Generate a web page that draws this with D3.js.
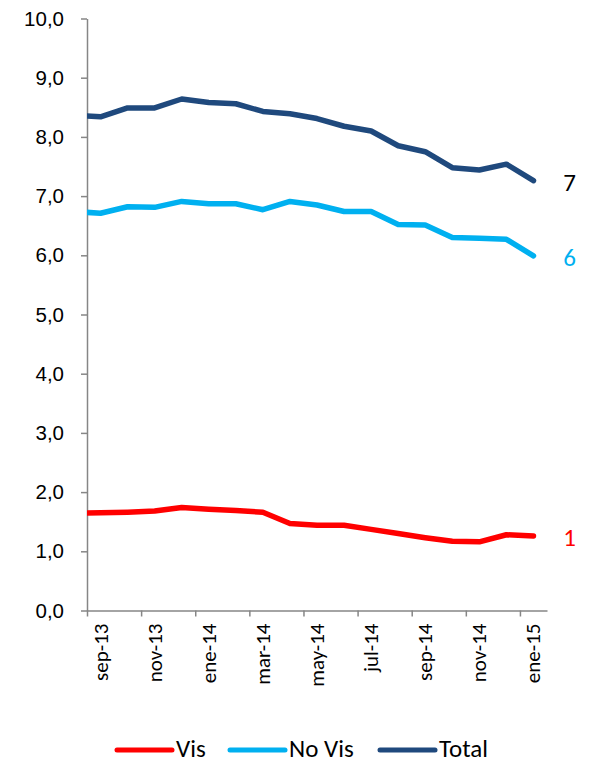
<!DOCTYPE html>
<html>
<head>
<meta charset="utf-8">
<script src="https://cdn.jsdelivr.net/npm/d3@7"></script>
<style>
  body { margin: 0; background: #fff; }
  svg { display: block; font-family: Carlito, Lato, "Liberation Sans", sans-serif; }
</style>
</head>
<body>
<svg id="chart"></svg>
<script>
// months (first one sits before the axis start and is clipped away)
const months = ["ago-13", "sep-13", "oct-13", "nov-13", "dic-13", "ene-14", "feb-14", "mar-14", "abr-14",
    "may-14", "jun-14", "jul-14", "ago-14", "sep-14", "oct-14", "nov-14", "dic-14", "ene-15"];

const visValues = [1.64, 1.65, 1.66, 1.68, 1.74, 1.71, 1.69, 1.66, 1.47,
    1.44, 1.44, 1.37, 1.30, 1.23, 1.17, 1.16, 1.28, 1.26];
const noVisValues = [6.74, 6.71, 6.82, 6.81, 6.91, 6.87, 6.87, 6.77, 6.91,
    6.85, 6.74, 6.74, 6.52, 6.51, 6.30, 6.29, 6.27, 5.99];
const totalValues = [8.37, 8.34, 8.49, 8.49, 8.64, 8.58, 8.56, 8.43, 8.39,
    8.31, 8.18, 8.10, 7.85, 7.75, 7.48, 7.44, 7.54, 7.26];

const seriesNames = ["Vis", "No Vis", "Total"];
const seriesColors = ["#FF0000", "#00B0F0", "#1F497D"];
const endLabelColors = ["#FF0000", "#00B0F0", "#000000"];
const yTicks = [0, 1, 2, 3, 4, 5, 6, 7, 8, 9, 10];

const W = 589, H = 763;
const plot = { left: 87, right: 547, top: 18.5, bottom: 610.5 };

const svg = d3.select("#chart").attr("width", W).attr("height", H);

// index 1 (sep-13) is the first shown month
const first = 1, last = months.length - 1;
const x = d3.scaleLinear()
    .domain([first - 0.5, last + 0.5])
    .range([plot.left, plot.right]);

const y = d3.scaleLinear()
    .domain([0, 10])
    .range([plot.bottom, plot.top]);

svg.append("defs").append("clipPath")
    .attr("id", "plotclip")
    .append("rect")
    .attr("x", plot.left)
    .attr("y", 0)
    .attr("width", plot.right - plot.left + 20)
    .attr("height", H);

// Y axis
const yAxis = svg.append("g")
    .attr("transform", `translate(${plot.left},0)`)
    .call(d3.axisLeft(y)
        .tickValues(yTicks)
        .tickSize(6)
        .tickSizeOuter(0)
        .tickPadding(17)
        .tickFormat(d => d.toFixed(1).replace(".", ",")));
yAxis.select(".domain").attr("stroke", "#868686").attr("stroke-width", 1.5);
yAxis.selectAll(".tick line").attr("stroke", "#868686").attr("stroke-width", 1.5);
yAxis.selectAll("text").attr("font-size", "20.5px").attr("fill", "#000");

// X axis: ticks on month boundaries every two months
const boundaries = d3.range(first - 0.5, last + 0.5, 2);
const xAxis = svg.append("g")
    .attr("transform", `translate(0,${plot.bottom})`)
    .call(d3.axisBottom(x)
        .tickValues(boundaries)
        .tickSize(6)
        .tickSizeOuter(0)
        .tickFormat(""));
xAxis.select(".domain").attr("stroke", "#868686").attr("stroke-width", 1.5);
xAxis.selectAll(".tick line").attr("stroke", "#868686").attr("stroke-width", 1.5);

// month labels centred in their month
const labelIdx = d3.range(first, last + 1, 2);
svg.append("g")
    .selectAll("text")
    .data(labelIdx)
    .enter().append("text")
    .attr("transform", i => `translate(${x(i)},${plot.bottom + 13}) rotate(-90)`)
    .attr("text-anchor", "end")
    .attr("dominant-baseline", "central")
    .attr("font-size", "21px")
    .attr("fill", "#000")
    .text(i => months[i]);

// lines
const allSeries = [visValues, noVisValues, totalValues];
const line = d3.line()
    .x((d, i) => x(i))
    .y(d => y(d));

const lines = svg.append("g").attr("clip-path", "url(#plotclip)");
allSeries.forEach((vals, s) => {
    lines.append("path")
        .datum(vals)
        .attr("fill", "none")
        .attr("stroke", seriesColors[s])
        .attr("stroke-width", 5.5)
        .attr("stroke-linejoin", "round")
        .attr("stroke-linecap", "round")
        .attr("d", line);
});

// end labels
allSeries.forEach((vals, s) => {
    svg.append("text")
        .attr("x", x(last) + 36)
        .attr("y", y(vals[last]) + 2)
        .attr("text-anchor", "middle")
        .attr("dominant-baseline", "central")
        .attr("font-size", "25px")
        .attr("fill", endLabelColors[s])
        .text(Math.round(vals[last]));
});

// legend
const legendX = [117, 230, 380];
const legend = svg.append("g")
    .selectAll("g")
    .data(seriesNames)
    .enter().append("g")
    .attr("transform", (d, i) => `translate(${legendX[i]},748)`);

legend.append("line")
    .attr("x1", 0).attr("x2", 55)
    .attr("y1", 2).attr("y2", 2)
    .attr("stroke", (d, i) => seriesColors[i])
    .attr("stroke-width", 5)
    .attr("stroke-linecap", "round");

legend.append("text")
    .attr("x", 59)
    .attr("dominant-baseline", "central")
    .attr("font-size", "25px")
    .attr("fill", "#000")
    .text(d => d);
</script>
</body>
</html>
